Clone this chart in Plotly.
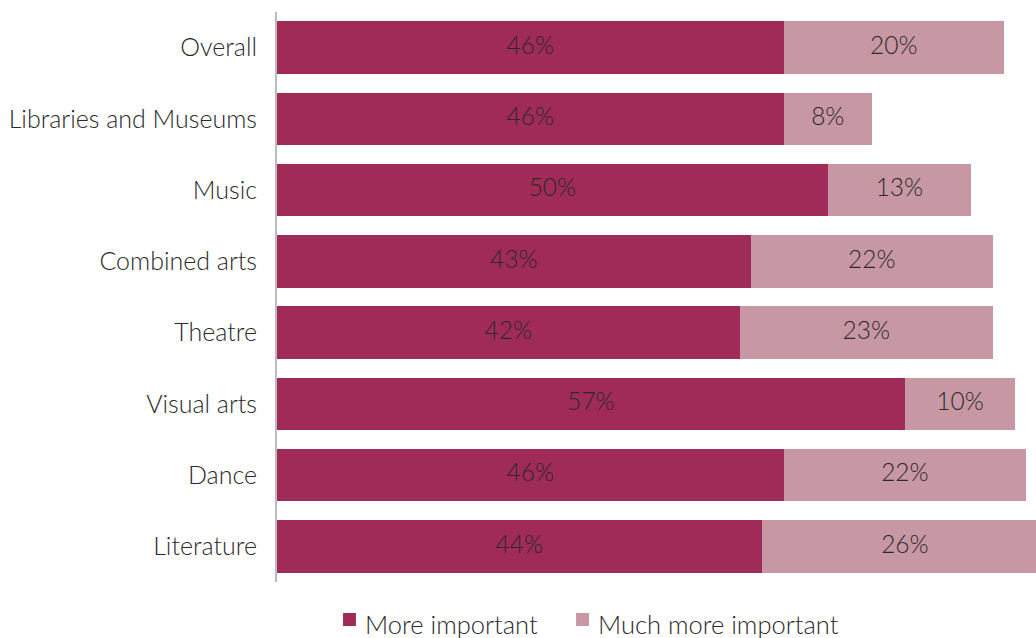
import plotly.graph_objects as go

categories = ["Overall", "Libraries and Museums", "Music", "Combined arts",
              "Theatre", "Visual arts", "Dance", "Literature"]
more_important = [46, 46, 50, 43, 42, 57, 46, 44]
much_more_important = [20, 8, 13, 22, 23, 10, 22, 26]
series_names = ["More important", "Much more important"]

DARK = "#A02A58"
LIGHT = "#C897A4"
FONT = "Lato"
TEXT = "#2A2A2A"
WEIGHT = 300

fig = go.Figure()
fig.add_trace(go.Bar(
    y=categories, x=more_important, orientation="h", name=series_names[0],
    marker=dict(color=DARK, line=dict(width=0)), showlegend=False,
))
fig.add_trace(go.Bar(
    y=categories, x=much_more_important, orientation="h", name=series_names[1],
    marker=dict(color=LIGHT, line=dict(width=0)), showlegend=False,
))

# value labels centred on each segment
mid_dark = [v / 2 for v in more_important]
mid_light = [a + b / 2 for a, b in zip(more_important, much_more_important)]
labels = [f"{v}%" for v in more_important] + [f"{v}%" for v in much_more_important]
fig.add_trace(go.Scatter(
    x=mid_dark + mid_light, y=categories + categories, mode="text",
    text=labels, textposition="middle center",
    textfont=dict(family=FONT, size=24.5, color=TEXT, weight=WEIGHT),
    showlegend=False, hoverinfo="skip",
))

# legend drawn as small swatches with text beside them
legend_items = [(series_names[0], DARK, 0.087, 0.1133),
                (series_names[1], LIGHT, 0.394, 0.4200)]
for name, color, sx, tx in legend_items:
    fig.add_shape(type="rect", xref="paper", yref="paper",
                  x0=sx, x1=sx + 0.017, y0=-0.0772, y1=-0.0544,
                  fillcolor=color, line=dict(width=0))
    fig.add_annotation(text=name, xref="paper", yref="paper", x=tx, y=-0.0737,
                       xanchor="left", yanchor="middle", showarrow=False,
                       font=dict(family=FONT, size=25.5, color=TEXT, weight=WEIGHT))

fig.update_layout(
    width=1036, height=638,
    barmode="stack", bargap=0.26,
    plot_bgcolor="white", paper_bgcolor="white",
    margin=dict(l=277, r=0, t=12, b=56),
    font=dict(family=FONT, size=24.5, color=TEXT),
    showlegend=False,
    xaxis=dict(range=[0, 68.9], showgrid=False, zeroline=False, showticklabels=False,
               showline=False),
    yaxis=dict(categoryorder="array", categoryarray=categories, autorange="reversed",
               showgrid=False, zeroline=False, showline=True, linecolor="#BBBBBB",
               linewidth=2, ticks="", ticklabelstandoff=13,
               tickfont=dict(family=FONT, size=25, color=TEXT, weight=WEIGHT)),
)

fig.write_html("out.html")
